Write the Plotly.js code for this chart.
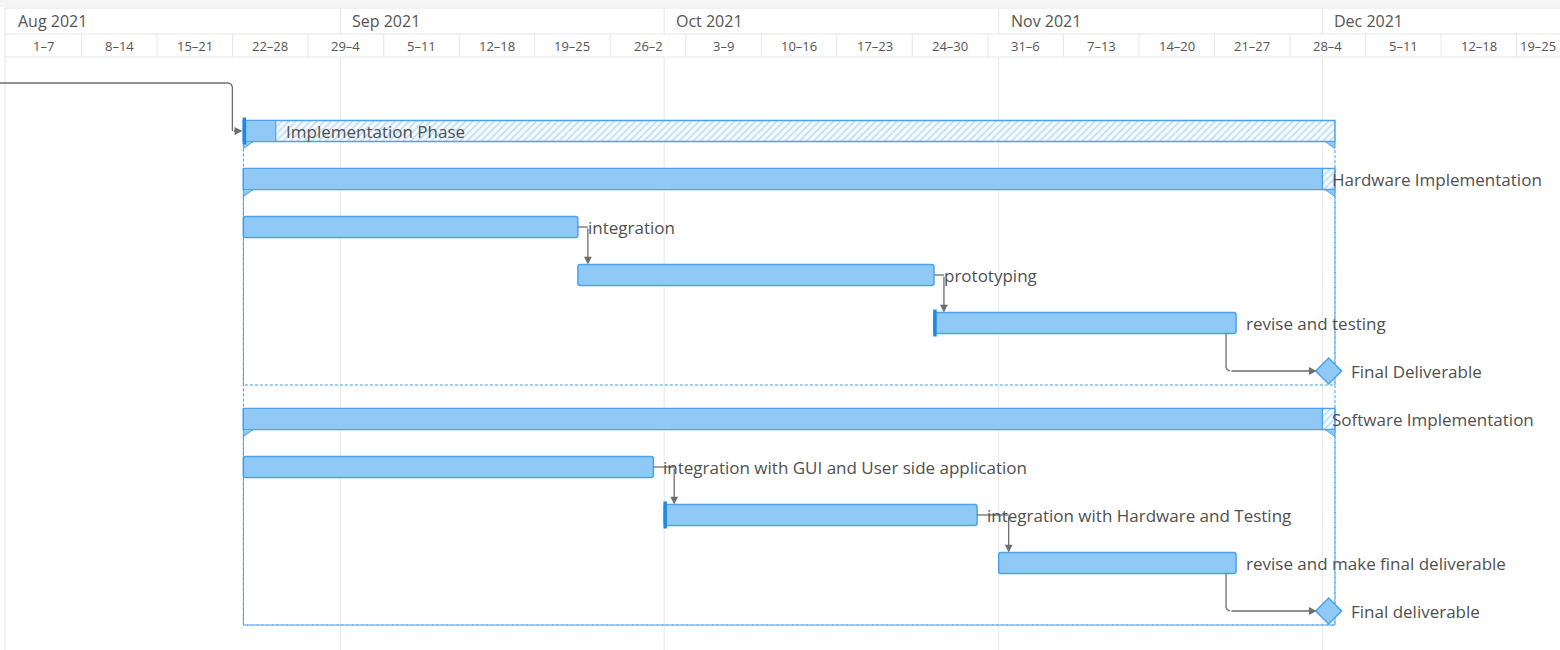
<!DOCTYPE html>
<html><head><meta charset="utf-8">
<script src="https://cdn.plot.ly/plotly-3.0.1.min.js"></script>
<style>html,body{margin:0;padding:0;background:#fff;overflow:hidden}#chart{width:1560px;height:650px}</style>
</head><body><div id="chart"></div>
<script>
// ---------------- data ----------------
const taskNames = ['Implementation Phase','Hardware Implementation','integration','prototyping','revise and testing','Final Deliverable','Software Implementation','integration with GUI and User side application','integration with Hardware and Testing','revise and make final deliverable','Final deliverable'];
const taskType  = ['summary','summary','task','task','task','milestone','summary','task','task','task','milestone'];
const taskStart = ['2021-08-23','2021-08-23','2021-08-23','2021-09-23','2021-10-26','2021-12-01T14:00','2021-08-23','2021-08-23','2021-10-01','2021-11-01','2021-12-01T14:00'];
const taskEnd   = ['2021-12-02T04:00','2021-12-02T04:00','2021-09-23','2021-10-26','2021-11-23',null,'2021-12-02T04:00','2021-09-30','2021-10-30','2021-11-23',null];
const taskProgressEnd = ['2021-08-26','2021-12-01',null,null,null,null,'2021-12-01',null,null,null,null];
const taskParent = [-1,0,1,1,1,1,0,6,6,6,6];
const taskMarked = [true,false,false,false,true,false,false,false,true,false,false];
const depFrom = [-1,2,3,4,7,8,9];
const depTo   = [0,3,4,5,8,9,10];
const monthStarts = ['2021-08-01','2021-09-01','2021-10-01','2021-11-01','2021-12-01'];
const monthLabels = ['Aug 2021','Sep 2021','Oct 2021','Nov 2021','Dec 2021'];
const weekStarts = ['2021-08-01','2021-08-08','2021-08-15','2021-08-22','2021-08-29','2021-09-05','2021-09-12','2021-09-19','2021-09-26','2021-10-03','2021-10-10','2021-10-17','2021-10-24','2021-10-31','2021-11-07','2021-11-14','2021-11-21','2021-11-28','2021-12-05','2021-12-12','2021-12-19'];
const weekLabels = ['1–7','8–14','15–21','22–28','29–4','5–11','12–18','19–25','26–2','3–9','10–16','17–23','24–30','31–6','7–13','14–20','21–27','28–4','5–11','12–18','19–25'];

// ---------------- geometry / style ----------------
const W = 1560, H = 650;
const PX_PER_DAY = 10.79, ORIGIN_PX = 6, ROW_PX = 48, FIRST_ROW_PX = 131;
const DAY = 86400000;
const BAR_PX = 21;
const t = s => Date.parse(s.length === 10 ? s + 'T00:00:00Z' : s + ':00Z');
const fmt = ms => new Date(ms).toISOString().slice(0,19).replace('T',' ');
const dx = px => px / PX_PER_DAY * DAY;
const dy = px => px / ROW_PX;
const py = p => 1 - p / H;
const BAR_H = dy(BAR_PX);
const x0 = t('2021-08-01') - dx(ORIGIN_PX), x1 = x0 + dx(W);

const FILL = '#90c8f6', EDGE = '#4aa3f0', DARK = '#1e88e5', LINK = '#6e6e6e', GRID = '#e6e6e6', TXT = '#505050';
const FONT = 'Open Sans, Noto Sans, sans-serif';

const idx = taskNames.map((_, i) => i);
const summ = idx.filter(i => taskType[i] === 'summary');
const tsk = idx.filter(i => taskType[i] === 'task');
const mil = idx.filter(i => taskType[i] === 'milestone');

const traces = [];
// group outlines (dashed)
const gx = [], gy = [];
summ.forEach(s => {
  const kids = idx.filter(i => { let p = taskParent[i]; while (p >= 0) { if (p === s) return true; p = taskParent[p]; } return false; });
  const last = Math.max(...kids);
  const top = s + BAR_H / 2 + dy(7), bot = last + dy(14);
  gx.push(fmt(t(taskStart[s])), fmt(t(taskStart[s])), fmt(t(taskEnd[s])), fmt(t(taskEnd[s])), null);
  gy.push(top, bot, bot, top, null);
});
traces.push({type:'scatter', mode:'lines', x:gx, y:gy, line:{color:'#3d9cf0', width:1, dash:'3px,2px'}, hoverinfo:'skip'});

// summary full (hatched) bars
traces.push({type:'bar', orientation:'h', y:summ, base:summ.map(i => fmt(t(taskStart[i]))),
  x:summ.map(i => t(taskEnd[i]) - t(taskStart[i])), width:BAR_H,
  marker:{color:'#f5fafe', pattern:{shape:'/', fgcolor:'#bcdcf8', bgcolor:'#f5fafe', size:5, solidity:0.3, fillmode:'replace'}, line:{color:EDGE, width:1.5}},
  hoverinfo:'skip'});
// summary progress
traces.push({type:'bar', orientation:'h', y:summ, base:summ.map(i => fmt(t(taskStart[i]))),
  x:summ.map(i => t(taskProgressEnd[i]) - t(taskStart[i])), width:BAR_H,
  marker:{color:FILL, line:{color:EDGE, width:1.2}}, hoverinfo:'skip'});
// tasks
traces.push({type:'bar', orientation:'h', y:tsk, base:tsk.map(i => fmt(t(taskStart[i]))),
  x:tsk.map(i => t(taskEnd[i]) - t(taskStart[i])), width:BAR_H,
  marker:{color:FILL, line:{color:EDGE, width:1.5}, cornerradius:3}, hoverinfo:'skip'});

// summary tabs
const tx = [], ty = [];
summ.forEach(i => {
  const s = t(taskStart[i]), e = t(taskEnd[i]), b = i + BAR_H / 2;
  tx.push(fmt(s), fmt(s + dx(10)), fmt(s), fmt(s), null);
  ty.push(b, b, b + dy(7), b, null);
  tx.push(fmt(e), fmt(e - dx(10)), fmt(e), fmt(e), null);
  ty.push(b, b, b + dy(7), b, null);
});
traces.push({type:'scatter', mode:'lines', x:tx, y:ty, fill:'toself', fillcolor:FILL, line:{color:EDGE, width:1}, hoverinfo:'skip'});

// marked start edges
const mx = [], my = [];
idx.filter(i => taskMarked[i]).forEach(i => {
  const s = fmt(t(taskStart[i]) + dx(1));
  mx.push(s, s, null); my.push(i - BAR_H / 2 - dy(3), i + BAR_H / 2 + dy(3), null);
});
traces.push({type:'scatter', mode:'lines', x:mx, y:my, line:{color:DARK, width:3.5}, hoverinfo:'skip'});

// connectors (with small rounded corners)
const cx = [], cy = [];
const arrows = [];
const R = 4;
depFrom.forEach((f, k) => {
  const to = depTo[k];
  const ss = t(taskStart[to]);
  if (f < 0) {
    const v = ss - dx(11);
    cx.push(fmt(x0), fmt(v - dx(R)), fmt(v - dx(R * 0.3)), fmt(v), fmt(v), null);
    cy.push(to - 1, to - 1, to - 1 + dy(R * 0.3), to - 1 + dy(R), to, null);
    arrows.push({x:fmt(ss - dx(1)), y:to, ax:fmt(v), ay:to});
  } else if (taskType[to] === 'milestone') {
    const v = t(taskEnd[f]) - dx(10);
    cx.push(fmt(v), fmt(v), fmt(v + dx(R * 0.3)), fmt(v + dx(R)), null);
    cy.push(f + BAR_H / 2, to - dy(R), to - dy(R * 0.3), to, null);
    arrows.push({x:fmt(ss - dx(12)), y:to, ax:fmt(v + dx(R)), ay:to});
  } else {
    const pe = t(taskEnd[f]);
    const v = fmt(ss + dx(10));
    cx.push(fmt(pe), v, null); cy.push(f, f, null);
    arrows.push({x:v, y:to - BAR_H / 2, ax:v, ay:f});
  }
});
traces.push({type:'scatter', mode:'lines', x:cx, y:cy, line:{color:LINK, width:1.3}, hoverinfo:'skip'});

// milestones
traces.push({type:'scatter', mode:'markers', x:mil.map(i => fmt(t(taskStart[i]))), y:mil,
  marker:{symbol:'diamond', size:20, color:FILL, line:{color:EDGE, width:1.5}}, hoverinfo:'skip'});

// ---------------- shapes (header, grid) ----------------
const shapes = [];
shapes.push({type:'rect', xref:'paper', yref:'paper', x0:0, x1:1, y0:py(7), y1:1, fillcolor:'#f5f5f5', line:{width:0}, layer:'below'});
[8, 34, 57].forEach(p => shapes.push({type:'line', xref:'paper', yref:'paper', x0:(ORIGIN_PX - 1) / W, x1:1, y0:py(p), y1:py(p), line:{color:GRID, width:1}, layer:'below'}));
shapes.push({type:'line', xref:'x', yref:'paper', x0:fmt(t(monthStarts[0]) - dx(1)), x1:fmt(t(monthStarts[0]) - dx(1)), y0:0, y1:py(8), line:{color:GRID, width:1}, layer:'below'});
monthStarts.slice(1).forEach(m => {
  shapes.push({type:'line', xref:'x', yref:'paper', x0:m, x1:m, y0:py(34), y1:py(8), line:{color:GRID, width:1}, layer:'below'});
  shapes.push({type:'line', xref:'x', yref:'paper', x0:m, x1:m, y0:0, y1:py(57), line:{color:GRID, width:1}, layer:'below'});
});
weekStarts.slice(1).forEach(w => shapes.push({type:'line', xref:'x', yref:'paper', x0:w, x1:w, y0:py(57), y1:py(34), line:{color:GRID, width:1}, layer:'below'}));

// ---------------- annotations ----------------
const ann = [];
monthStarts.forEach((m, k) => ann.push({xref:'x', yref:'paper', x:fmt(t(m) + dx(10)), y:py(21), xanchor:'left', yanchor:'middle', text:monthLabels[k], showarrow:false, font:{family:FONT, size:16, color:'#555'}}));
weekStarts.forEach((w, k) => {
  const a = t(w), b = Math.min(a + 7 * DAY, x1);
  ann.push({xref:'x', yref:'paper', x:fmt((a + b) / 2), y:py(46), xanchor:'center', yanchor:'middle', text:weekLabels[k], showarrow:false, font:{family:FONT, size:13, color:'#555'}});
});
idx.forEach(i => {
  let x;
  if (taskType[i] === 'milestone') x = t(taskStart[i]) + dx(20);
  else if (taskType[i] === 'summary') x = taskParent[i] < 0 ? t(taskProgressEnd[i]) + dx(8) : t(taskEnd[i]) - dx(5);
  else x = t(taskEnd[i]) + dx(8);
  ann.push({xref:'x', yref:'y', x:fmt(x), y:i, xanchor:'left', yanchor:'middle', text:taskNames[i], showarrow:false, font:{family:FONT, size:17, color:TXT}});
});
arrows.forEach(a => ann.push({xref:'x', yref:'y', axref:'x', ayref:'y', x:a.x, y:a.y, ax:a.ax, ay:a.ay, text:'', showarrow:true, arrowhead:2, arrowsize:1.2, arrowwidth:1.3, arrowcolor:LINK}));

const layout = {
  width:W, height:H, margin:{l:0, r:0, t:0, b:0}, paper_bgcolor:'#fff', plot_bgcolor:'#fff',
  showlegend:false, barmode:'overlay', bargap:0,
  xaxis:{type:'date', range:[fmt(x0), fmt(x1)], showgrid:false, zeroline:false, showticklabels:false, ticks:'', showline:false, fixedrange:true},
  yaxis:{range:[(H - FIRST_ROW_PX) / ROW_PX, -FIRST_ROW_PX / ROW_PX], showgrid:false, zeroline:false, showticklabels:false, ticks:'', showline:false, fixedrange:true},
  shapes:shapes, annotations:ann, font:{family:FONT}
};
Plotly.newPlot('chart', traces, layout, {displayModeBar:false, staticPlot:true});
</script></body></html>
